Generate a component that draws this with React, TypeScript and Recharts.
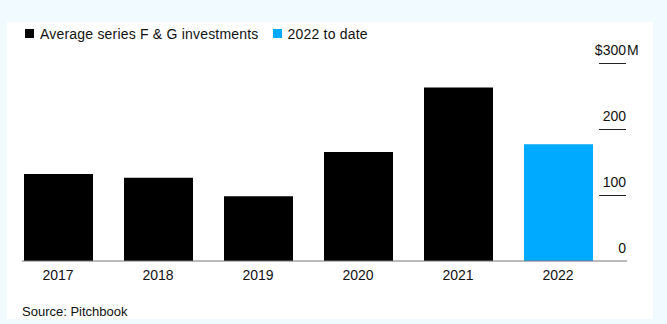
import React from 'react';
import { BarChart, Bar, XAxis, YAxis } from 'recharts';

const years = ['2017', '2018', '2019', '2020', '2021', '2022'];
// average series F & G investment, $M
const avgInvestments = [132, 126, 98, 165, 263, null];
const toDate2022 = [null, null, null, null, null, 177];
const yTicks = [0, 100, 200, 300];

const data = years.map((year, i) => ({
    year,
    avg: avgInvestments[i],
    ytd: toDate2022[i],
}));

const FONT = '"Liberation Sans", Arial, sans-serif';
const BLACK = '#000000';
const CYAN = '#00aaff';
const BAR_SIZE = 69;

// y tick: label sitting above a short rule, unit hanging to the right of the top one
const RightTick = (props: any) => {
    const { x, y, payload } = props;
    const top = payload.value === 300;
    return (
        <g>
            {payload.value !== 0 && (
                <line x1={x - 28} x2={x - 1} y1={y + 0.5} y2={y + 0.5} stroke="#222" strokeWidth={1} />
            )}
            <text x={x - 1} y={y - 8} textAnchor="end" fontSize={14} fill="#111" fontFamily={FONT}>
                {top ? '$' + payload.value : String(payload.value)}
            </text>
            {top && (
                <text x={x} y={y - 8} textAnchor="start" fontSize={14} fill="#111" fontFamily={FONT}>
                    M
                </text>
            )}
        </g>
    );
};

const LegendItem = ({ color, label }: { color: string; label: string }) => (
    <span style={{ display: 'inline-flex', alignItems: 'center', marginRight: 14 }}>
        <span style={{ width: 9, height: 9, background: color, display: 'inline-block', marginRight: 6 }} />
        <span>{label}</span>
    </span>
);

export default function App() {
    return (
        <div style={{ position: 'relative', width: 667, height: 324, background: '#f1fbff', fontFamily: FONT, overflow: 'hidden' }}>
            <style>{'body{margin:0}'}</style>
            <div style={{ position: 'absolute', left: 7, top: 22, width: 646, height: 297, background: '#ffffff' }} />
            <div style={{ position: 'absolute', left: 25, top: 24, fontSize: 14, color: '#111', lineHeight: '18px', letterSpacing: 0.2 }}>
                <LegendItem color={BLACK} label="Average series F & G investments" />
                <LegendItem color={CYAN} label="2022 to date" />
            </div>
            <div style={{ position: 'absolute', left: 0, top: 0 }}>
                <BarChart width={667} height={324} data={data} margin={{ top: 63, right: 39, bottom: 33, left: 22 }}>
                    <XAxis
                        dataKey="year"
                        axisLine={{ stroke: '#777', strokeWidth: 1 }}
                        tickLine={false}
                        tickSize={0}
                        tickMargin={9}
                        height={30}
                        padding={{ left: -14, right: 19 }}
                        tick={{ fontSize: 14, fill: '#111', fontFamily: FONT }}
                    />
                    <YAxis
                        orientation="right"
                        domain={[0, 300]}
                        ticks={yTicks}
                        width={1}
                        axisLine={false}
                        tickLine={false}
                        tickSize={0}
                        tickMargin={0}
                        tick={<RightTick />}
                    />
                    <Bar dataKey="avg" stackId="a" fill={BLACK} barSize={BAR_SIZE} isAnimationActive={false} />
                    <Bar dataKey="ytd" stackId="a" fill={CYAN} barSize={BAR_SIZE} isAnimationActive={false} />
                </BarChart>
            </div>
            <div style={{ position: 'absolute', left: 22, top: 304, fontSize: 13, color: '#111' }}>Source: Pitchbook</div>
        </div>
    );
}
